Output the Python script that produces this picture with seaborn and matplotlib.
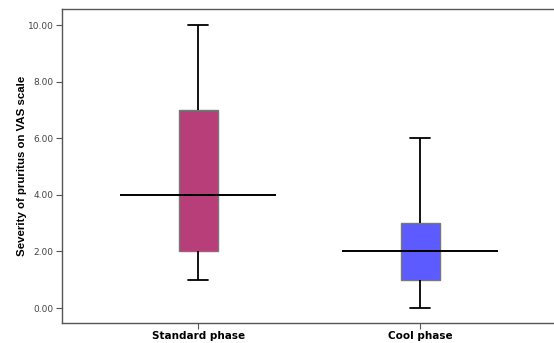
import matplotlib
matplotlib.use("Agg")
import matplotlib.pyplot as plt
import seaborn as sns
import pandas as pd
import numpy as np

# Five-number summaries (min, Q1, median, Q3, max)
categories = ["Standard phase", "Cool phase"]
standard_values = [1.0, 2.0, 4.0, 7.0, 10.0]
cool_values = [0.0, 1.0, 2.0, 3.0, 6.0]
medians = [4.0, 2.0]
box_colors = ["#B83E7A", "#5B5BFF"]
yticks = [0, 2, 4, 6, 8, 10]
ytick_labels = ["0.00", "2.00", "4.00", "6.00", "8.00", "10.00"]

df = pd.DataFrame({
    "phase": [categories[0]] * len(standard_values) + [categories[1]] * len(cool_values),
    "value": standard_values + cool_values,
})

sns.set_theme(style="white")
plt.rcParams['font.family'] = ['DejaVu Sans']

fig = plt.figure(figsize=(5.54, 3.43), dpi=100)
ax = fig.add_axes([0.112, 0.058, 0.895, 0.916])

sns.boxplot(data=df, x="phase", y="value", hue="phase", order=categories,
            palette=box_colors, saturation=1, width=0.176, whis=(0, 100), ax=ax,
            linecolor="#666666", linewidth=1.0, legend=False,
            whiskerprops=dict(color="black", linewidth=1.3),
            capprops=dict(color="black", linewidth=1.3),
            medianprops=dict(color="black", linewidth=1.3),
            boxprops=dict(edgecolor="#777777", linewidth=1.0))

for i, m in enumerate(medians):
    ax.hlines(m, i - 0.35, i + 0.35, color="black", linewidth=1.4, zorder=5)

ax.set_xlim(-0.613, 1.62)
ax.set_ylim(-0.53, 10.57)
ax.set_yticks(yticks)
ax.set_yticklabels(ytick_labels, fontsize=6.5, color="#444444")
ax.set_xticks([0, 1])
ax.set_xticklabels(categories, fontsize=7.5, fontweight="bold", color="black")
ax.set_xlabel("")
ax.set_ylabel("Severity of pruritus on VAS scale", fontsize=8.2, fontweight="bold",
              color="black", labelpad=0.5, family=["Liberation Sans", "DejaVu Sans"])

for side in ["left", "bottom", "top"]:
    ax.spines[side].set_visible(True)
    ax.spines[side].set_color("#555555")
    ax.spines[side].set_linewidth(1.0)
ax.spines["right"].set_visible(False)

ax.tick_params(axis="y", which="both", left=True, length=4, width=0.8, color="#555555", pad=2)
ax.tick_params(axis="x", which="both", bottom=True, length=4, width=0.8, color="#555555", pad=2)

fig.savefig("out.png", dpi=100, facecolor="white")
